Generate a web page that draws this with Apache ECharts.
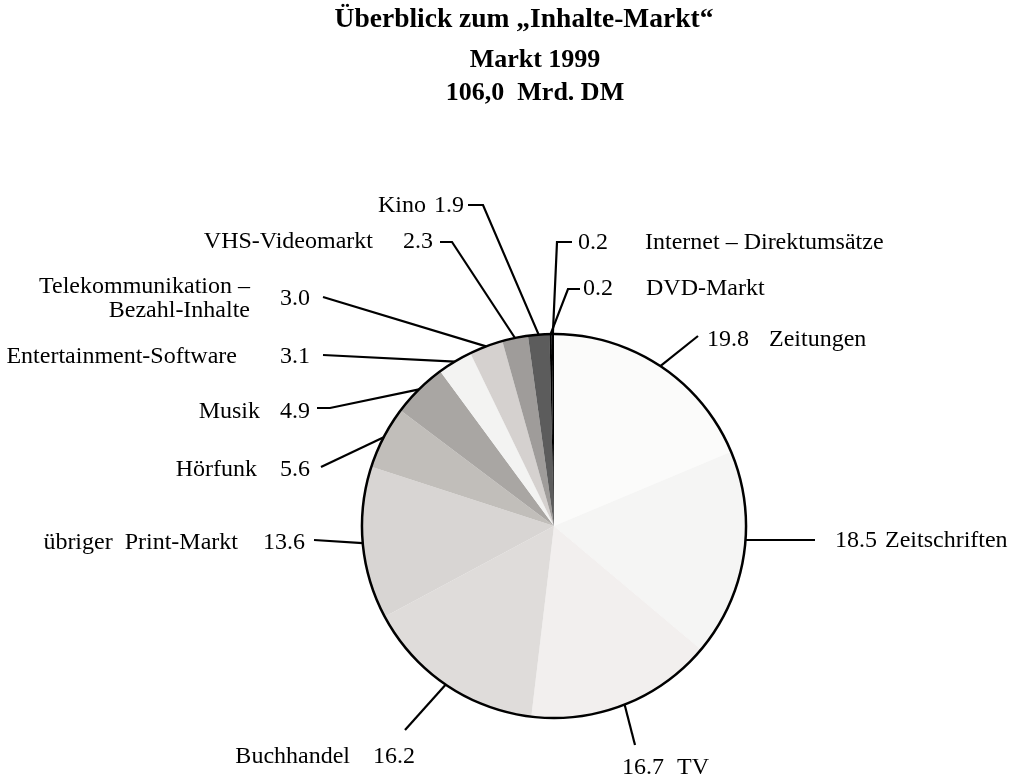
<!DOCTYPE html>
<html>
<head>
<meta charset="utf-8">
<title>Inhalte-Markt 1999</title>
<script src="https://cdn.jsdelivr.net/npm/echarts@6/dist/echarts.min.js"></script>
<style>
html, body { margin: 0; padding: 0; background: #fff; }
#main { width: 1009px; height: 778px; }
</style>
</head>
<body>
<div id="main"></div>
<script>
// Umsatz 1999 in Mrd. DM, im Uhrzeigersinn ab 12 Uhr
var segments = ['Zeitungen', 'Zeitschriften', 'TV', 'Buchhandel', 'übriger  Print-Markt', 'Hörfunk', 'Musik',
    'Entertainment-Software', 'Telekommunikation – Bezahl-Inhalte', 'VHS-Videomarkt', 'Kino', 'DVD-Markt',
    'Internet – Direktumsätze'];
var umsatz = [19.8, 18.5, 16.7, 16.2, 13.6, 5.6, 4.9, 3.1, 3.0, 2.3, 1.9, 0.2, 0.2];

var shades = ['#fbfbfa', '#f5f5f4', '#f2efee', '#dfdcda', '#d8d5d3', '#c1beba', '#a9a6a3',
    '#f3f3f2', '#d5d1cf', '#9f9c9a', '#5c5c5c', '#000000', '#000000'];

var FONT = 'Liberation Serif';
var PIE_C = [554, 526];
var PIE_R = 192;

// label placement (n = name first, v = value first)
var labelKind = ['vn', 'vn', 'vn', 'nv', 'nv', 'nv', 'nv', 'nv', 'v', 'nv', 'nv', 'vn', 'vn'];
var gaps = [20, 8, 13, 23, 25, 23, 20, 43, 0, 30, 8, 33, 37];
var labelPos = [
    {x: 707, y: 340, align: 'left', bend: [[698, 336]]},
    {x: 835, y: 541, align: 'left', flat: true, bend: [[815, 540]]},
    {x: 622, y: 768, align: 'left', bend: [[635, 745]]},
    {x: 415, y: 757, align: 'right', bend: [[405, 730]]},
    {x: 305, y: 543, align: 'right', bend: [[314, 540]]},
    {x: 310, y: 470, align: 'right', bend: [[321, 467]]},
    {x: 310, y: 412, align: 'right', bend: [[330, 408], [317, 408]]},
    {x: 310, y: 357, align: 'right', bend: [[323, 355]]},
    {x: 310, y: 299, align: 'right', bend: [[323, 297]]},
    {x: 433, y: 242, align: 'right', bend: [[452, 242], [440, 242]]},
    {x: 464, y: 206, align: 'right', bend: [[483, 205], [468, 205]]},
    {x: 583, y: 289, align: 'left', bend: [[568, 289], [580, 289]]},
    {x: 578, y: 243, align: 'left', bend: [[557, 242], [572, 242]]}
];

var myChart = echarts.init(document.getElementById('main'));

var rich = { t: { fontFamily: FONT, fontSize: 24, color: '#000', lineHeight: 26 } };
gaps.forEach(function (g, i) {
    rich['g' + i] = { width: g, fontSize: 24, lineHeight: 26 };
});

function labelText(p) {
    var i = p.dataIndex;
    var v = umsatz[i].toFixed(1);
    var g = '{g' + i + '| }';
    if (labelKind[i] === 'v') return '{t|' + v + '}';
    if (labelKind[i] === 'vn') return '{t|' + v + '}' + g + '{t|' + p.name + '}';
    return '{t|' + p.name + '}' + g + '{t|' + v + '}';
}

function placeLabel(params) {
    var p = labelPos[params.dataIndex];
    var out = { x: p.x, y: p.y, align: p.align, verticalAlign: 'middle' };
    var pts = params.labelLinePoints;
    if (pts && pts.length) {
        var start = pts[0];
        if (p.flat) {
            var r = Math.sqrt(Math.pow(start[0] - PIE_C[0], 2) + Math.pow(start[1] - PIE_C[1], 2));
            var dy = p.bend[0][1] - PIE_C[1];
            start = [PIE_C[0] + Math.sqrt(r * r - dy * dy), p.bend[0][1]];
        }
        out.labelLinePoints = [start].concat(p.bend);
    }
    return out;
}

var pieData = segments.map(function (name, i) {
    return { name: name, value: umsatz[i], itemStyle: { color: shades[i] } };
});

// second layer only carries the two-line name of the Telekom slice
var nameData = segments.map(function (name, i) {
    return {
        name: name, value: umsatz[i],
        itemStyle: { color: 'rgba(0,0,0,0)' },
        label: { show: i === 8 }
    };
});

var option = {
    animation: false,
    backgroundColor: '#fff',
    title: [
        {
            text: 'Überblick zum „Inhalte-Markt“',
            left: 524, top: 6, padding: 0, textAlign: 'center',
            textStyle: { fontFamily: FONT, fontWeight: 'bold', fontSize: 27.5, color: '#000' }
        },
        {
            text: 'Markt 1999\n106,0  Mrd. DM',
            left: 535, top: 44, padding: 0, textAlign: 'center',
            textStyle: { fontFamily: FONT, fontWeight: 'bold', fontSize: 26, lineHeight: 33, color: '#000' }
        }
    ],
    series: [
        {
            type: 'pie',
            center: PIE_C,
            radius: PIE_R,
            startAngle: 90,
            clockwise: true,
            avoidLabelOverlap: false,
            emphasis: { disabled: true },
            itemStyle: { borderWidth: 0 },
            label: {
                show: true,
                position: 'outside',
                alignTo: 'none',
                formatter: labelText,
                rich: rich
            },
            labelLine: {
                show: true,
                smooth: false,
                lineStyle: { color: '#000', width: 2.2 }
            },
            labelLayout: placeLabel,
            data: pieData
        },
        {
            type: 'pie',
            center: PIE_C,
            radius: PIE_R,
            startAngle: 90,
            silent: true,
            avoidLabelOverlap: false,
            label: {
                position: 'outside',
                alignTo: 'none',
                formatter: function (p) { return p.name.replace('– ', '–\n'); },
                fontFamily: FONT, fontSize: 24, lineHeight: 24, color: '#000', align: 'right'
            },
            labelLine: { show: false },
            labelLayout: function () {
                return { x: 250, y: 299, align: 'right', verticalAlign: 'middle' };
            },
            data: nameData
        },
        {
            // outer black rim
            type: 'pie',
            center: PIE_C,
            radius: [PIE_R - 1.2, PIE_R + 1.3],
            silent: true,
            label: { show: false },
            labelLine: { show: false },
            itemStyle: { color: '#000' },
            data: [{ value: 1, name: 'rim' }]
        }
    ]
};

myChart.setOption(option);
</script>
</body>
</html>
